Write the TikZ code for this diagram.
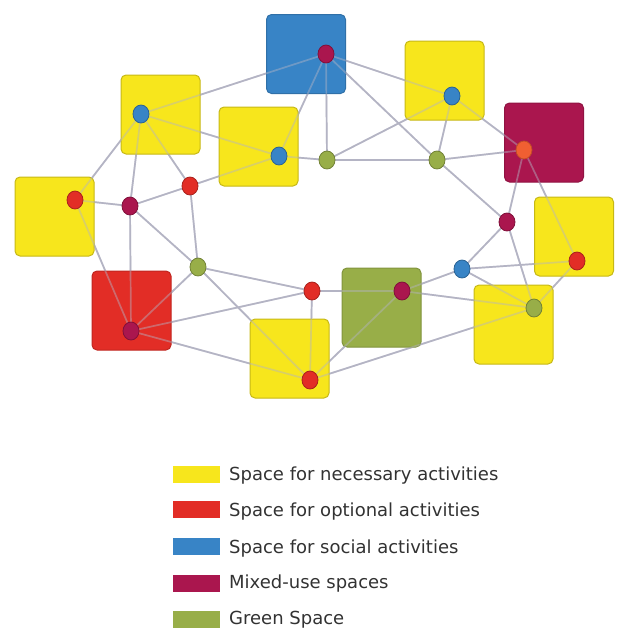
\documentclass[tikz,border=0pt]{standalone}
\usepackage{fontspec}
\setmainfont{DejaVu Sans}
\usetikzlibrary{shapes.geometric}
\definecolor{cyel}{RGB}{247,230,28}
\definecolor{cred}{RGB}{226,45,38}
\definecolor{cblue}{RGB}{56,132,198}
\definecolor{cmix}{RGB}{170,22,78}
\definecolor{cgreen}{RGB}{152,174,72}
\definecolor{corange}{RGB}{240,95,50}
\definecolor{cline}{RGB}{180,180,196}
\definecolor{ctext}{RGB}{50,50,50}
\pgfdeclarelayer{lnl}\pgfdeclarelayer{sql}\pgfdeclarelayer{ovl}\pgfsetlayers{lnl,sql,ovl,main}
\tikzset{
  sq/.style={rectangle, rounded corners=5pt, minimum size=79pt, inner sep=0pt, line width=1pt},
  ysq/.style={sq, fill=cyel, draw=cyel!80!black},
  rsq/.style={sq, fill=cred, draw=cred!85!black},
  bsq/.style={sq, fill=cblue, draw=cblue!85!black},
  msq/.style={sq, fill=cmix, draw=cmix!85!black},
  gsq/.style={sq, fill=cgreen, draw=cgreen!85!black},
  dot/.style={ellipse, minimum width=16pt, minimum height=18pt, inner sep=0pt, line width=0.8pt},
  rdot/.style={dot, fill=cred, draw=cred!75!black},
  bdot/.style={dot, fill=cblue, draw=cblue!75!black},
  mdot/.style={dot, fill=cmix, draw=cmix!75!black},
  gdot/.style={dot, fill=cgreen, draw=cgreen!75!black},
  odot/.style={dot, fill=corange, draw=corange!80!black},
  link/.style={draw=cline, line width=1.7pt},
  faintlink/.style={link, draw opacity=0.45},
  swatch/.style={rectangle, minimum width=47pt, minimum height=17pt, inner sep=0pt},
  lab/.style={anchor=west, inner sep=0pt, font=\fontsize{18}{21}\selectfont, text=ctext}
}
\begin{document}
\begin{tikzpicture}[x=1pt,y=-1pt]
\useasboundingbox (0,0) rectangle (617,632);
\begin{pgfonlayer}{sql}
\node[bsq] (S1) at (306,54) {};
\node[ysq] (S2) at (444.5,80.5) {};
\node[ysq] (S3) at (160.5,114.5) {};
\node[ysq] (S4) at (258.5,146.5) {};
\node[msq] (S5) at (544,142.5) {};
\node[ysq] (S6) at (54.5,216.5) {};
\node[ysq] (S7) at (574,236.5) {};
\node[rsq] (S8) at (131.5,310.5) {};
\node[gsq] (S9) at (381.5,307.5) {};
\node[ysq] (S10) at (513.5,324.5) {};
\node[ysq] (S11) at (289.5,358.5) {};
\end{pgfonlayer}
% dots
\node[mdot] (Ma) at (326,54) {};
\node[bdot] (Ba) at (452,96) {};
\node[bdot] (Bb) at (141,114) {};
\node[bdot] (Bc) at (279,156) {};
\node[odot] (Oa) at (524,150) {};
\node[rdot] (Ra) at (75,200) {};
\node[rdot] (Rb) at (577,261) {};
\node[mdot] (Mb) at (131,331) {};
\node[mdot] (Mc) at (402,291) {};
\node[gdot] (Ga) at (534,308) {};
\node[rdot] (Rc) at (310,380) {};
\node[mdot] (M1) at (130,206) {};
\node[rdot] (R1) at (190,186) {};
\node[gdot] (G1) at (198,267) {};
\node[gdot] (G2) at (327,160) {};
\node[gdot] (G3) at (437,160) {};
\node[mdot] (M2) at (507,222) {};
\node[bdot] (B1) at (462,269) {};
\node[rdot] (R2) at (312,291) {};
% links
\foreach \a/\b in {Bb/Ma, Bb/Bc, Bb/R1, Bb/M1, Ra/Bb, Bc/Ma, Bc/R1, Bc/G2,
  Ra/M1, M1/R1, R1/G1, M1/G1, M1/Mb, Ra/Mb, G1/Mb, G1/R2, G1/Rc, Mb/R2,
  Mb/Rc, R2/Rc, R2/Mc, Rc/Ga, Rc/Mc, Mc/B1, Mc/Ga, B1/M2, B1/Rb, B1/Ga,
  M2/Ga, M2/Oa, Rb/Ga, Oa/Rb, G3/M2, Ma/G3, Ma/Ba, Ma/G2, G2/G3, G2/Ba,
  Ba/G3, Ba/Oa, G3/Oa}{
  \begin{pgfonlayer}{lnl}\draw[link] (\a.center) -- (\b.center);\end{pgfonlayer}
  \begin{pgfonlayer}{ovl}\draw[faintlink] (\a.center) -- (\b.center);\end{pgfonlayer}
}
% legend
\node[swatch, fill=cyel] (L1) at (196.5,474.5) {};
\node[swatch, fill=cred] (L2) at (196.5,509) {};
\node[swatch, fill=cblue] (L3) at (196.5,546.5) {};
\node[swatch, fill=cmix] (L4) at (196.5,583) {};
\node[swatch, fill=cgreen] (L5) at (196.5,619.5) {};
\node[lab] (T1) at (229,476) {Space for necessary activities};
\node[lab] (T2) at (229,512) {Space for optional activities};
\node[lab] (T3) at (229,548.5) {Space for social activities};
\node[lab] (T4) at (229,584) {Mixed-use spaces};
\node[lab] (T5) at (229,620) {Green Space};
\end{tikzpicture}
\end{document}
